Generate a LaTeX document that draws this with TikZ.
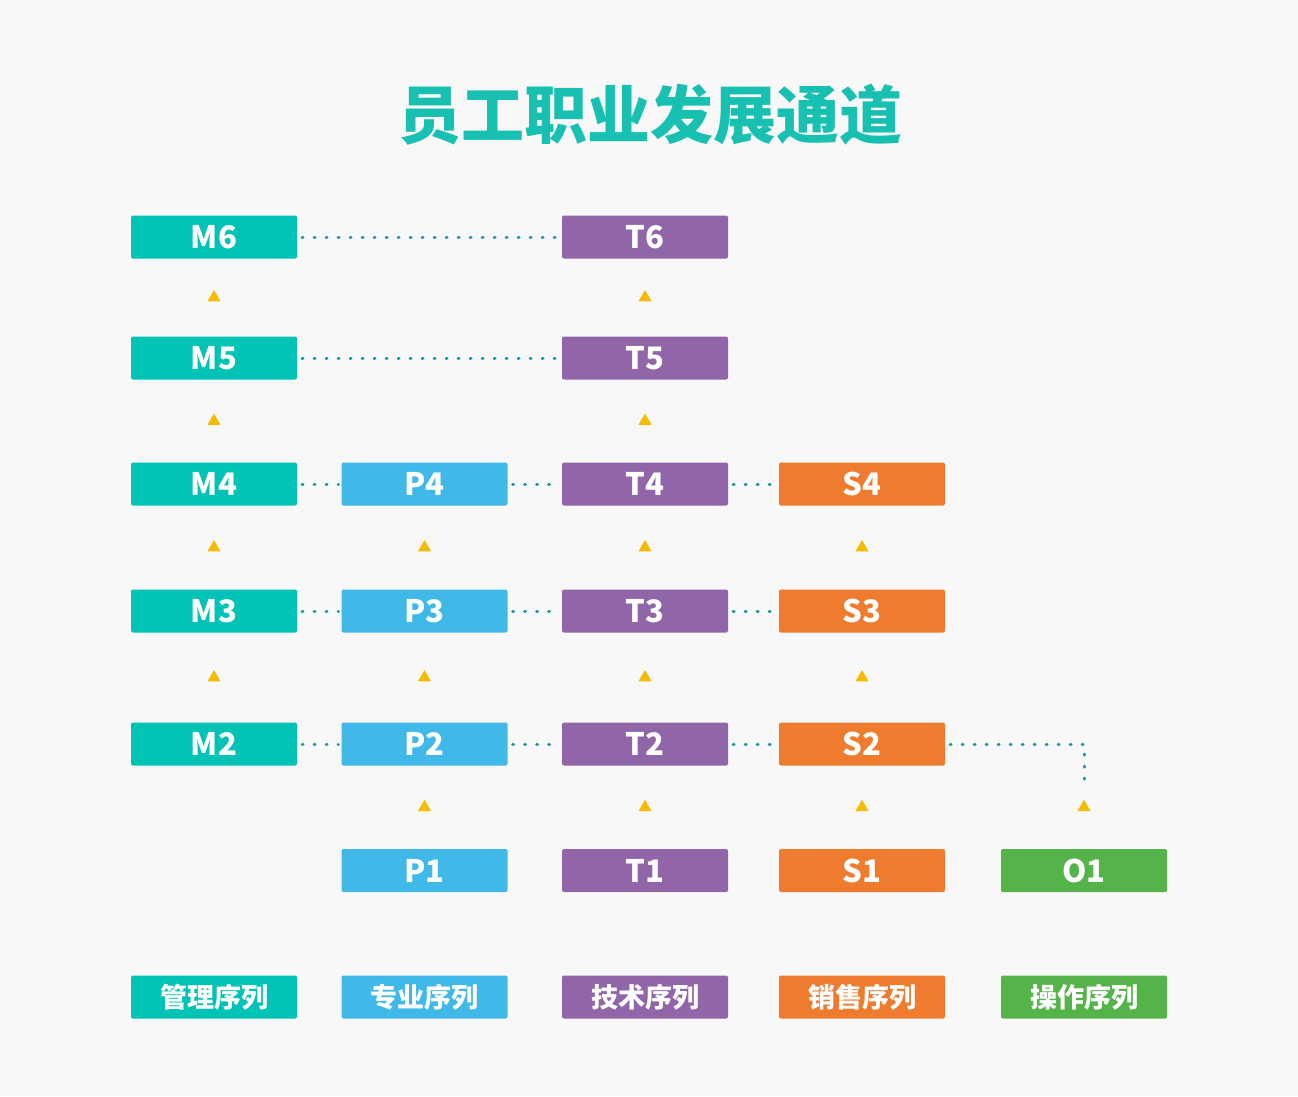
\documentclass[tikz,border=0pt]{standalone}
\usepackage{fontspec}
\setmainfont{Noto Sans CJK SC}
\usepackage{tikz}
\usetikzlibrary{shapes, calc, positioning, backgrounds}

\definecolor{mgmt}{RGB}{0,195,182}
\definecolor{prof}{RGB}{64,185,233}
\definecolor{tech}{RGB}{145,102,168}
\definecolor{sale}{RGB}{238,123,46}
\definecolor{oper}{RGB}{84,180,74}
\definecolor{tri}{RGB}{246,186,0}
\definecolor{dotc}{RGB}{30,150,160}
\definecolor{bgc}{RGB}{248,248,248}
\definecolor{titlec}{RGB}{24,192,178}

\begin{document}
\begin{tikzpicture}[x=1pt, y=-1pt,
    box/.style={rectangle, rounded corners=2pt, minimum width=166pt,
      minimum height=43pt, inner sep=0pt, text=white,
      font=\fontsize{31}{31}\selectfont\bfseries},
    tag/.style={box, font=\fontsize{27}{27}\selectfont\bfseries},
    rise/.style={regular polygon, regular polygon sides=3, fill=tri,
      minimum size=15pt, inner sep=0pt},
    dots/.style={dotc, line width=3pt, line cap=round,
      dash pattern=on 0.8pt off 11.2pt, shorten <=5pt, shorten >=3pt}]
    \fill[bgc] (0,0) rectangle (1298,1096);
    \useasboundingbox (0,0) rectangle (1298,1096);

    \node[text=titlec, font=\fontsize{63}{63}\selectfont\bfseries] (title) at (650,115) {员工职业发展通道};

    \node[box, fill=mgmt] (m6) at (214,237) {M6};
    \node[box, fill=mgmt] (m5) at (214,358) {M5};
    \node[box, fill=mgmt] (m4) at (214,484) {M4};
    \node[box, fill=mgmt] (m3) at (214,611) {M3};
    \node[box, fill=mgmt] (m2) at (214,744) {M2};

    \node[box, fill=prof] (p4) at (424.5,484) {P4};
    \node[box, fill=prof] (p3) at (424.5,611) {P3};
    \node[box, fill=prof] (p2) at (424.5,744) {P2};
    \node[box, fill=prof] (p1) at (424.5,870.5) {P1};

    \node[box, fill=tech] (t6) at (645,237) {T6};
    \node[box, fill=tech] (t5) at (645,358) {T5};
    \node[box, fill=tech] (t4) at (645,484) {T4};
    \node[box, fill=tech] (t3) at (645,611) {T3};
    \node[box, fill=tech] (t2) at (645,744) {T2};
    \node[box, fill=tech] (t1) at (645,870.5) {T1};

    \node[box, fill=sale] (s4) at (862,484) {S4};
    \node[box, fill=sale] (s3) at (862,611) {S3};
    \node[box, fill=sale] (s2) at (862,744) {S2};
    \node[box, fill=sale] (s1) at (862,870.5) {S1};

    \node[box, fill=oper] (o1) at (1084,870.5) {O1};

    \node[tag, fill=mgmt] (m-seq) at (214,997) {管理序列};
    \node[tag, fill=prof] (p-seq) at (424.5,997) {专业序列};
    \node[tag, fill=tech] (t-seq) at (645,997) {技术序列};
    \node[tag, fill=sale] (s-seq) at (862,997) {销售序列};
    \node[tag, fill=oper] (o-seq) at (1084,997) {操作序列};

    \node[rise] (up-m5) at ($(m5)!0.5!(m6)$) {};
    \node[rise] (up-m4) at ($(m4)!0.5!(m5)$) {};
    \node[rise] (up-m3) at ($(m3)!0.5!(m4)$) {};
    \node[rise] (up-m2) at ($(m2)!0.5!(m3)$) {};

    \node[rise] (up-p3) at ($(p3)!0.5!(p4)$) {};
    \node[rise] (up-p2) at ($(p2)!0.5!(p3)$) {};
    \node[rise] (up-p1) at ($(p1)!0.5!(p2)$) {};

    \node[rise] (up-t5) at ($(t5)!0.5!(t6)$) {};
    \node[rise] (up-t4) at ($(t4)!0.5!(t5)$) {};
    \node[rise] (up-t3) at ($(t3)!0.5!(t4)$) {};
    \node[rise] (up-t2) at ($(t2)!0.5!(t3)$) {};
    \node[rise] (up-t1) at ($(t1)!0.5!(t2)$) {};

    \node[rise] (up-s3) at ($(s3)!0.5!(s4)$) {};
    \node[rise] (up-s2) at ($(s2)!0.5!(s3)$) {};
    \node[rise] (up-s1) at ($(s1)!0.5!(s2)$) {};

    \node[rise] (up-o1) at ($(o1)!0.5!(o1 |- s2)$) {};

    \draw[dots] (m6.east) -- (t6.west);
    \draw[dots] (m5.east) -- (t5.west);

    \draw[dots] (m4.east) -- (p4.west);
    \draw[dots] (p4.east) -- (t4.west);
    \draw[dots] (t4.east) -- (s4.west);

    \draw[dots] (m3.east) -- (p3.west);
    \draw[dots] (p3.east) -- (t3.west);
    \draw[dots] (t3.east) -- (s3.west);

    \draw[dots] (m2.east) -- (p2.west);
    \draw[dots] (p2.east) -- (t2.west);
    \draw[dots] (t2.east) -- (s2.west);
    \draw[dots] (s2.east) -| ([yshift=10pt]up-o1.north);
\end{tikzpicture}
\end{document}
